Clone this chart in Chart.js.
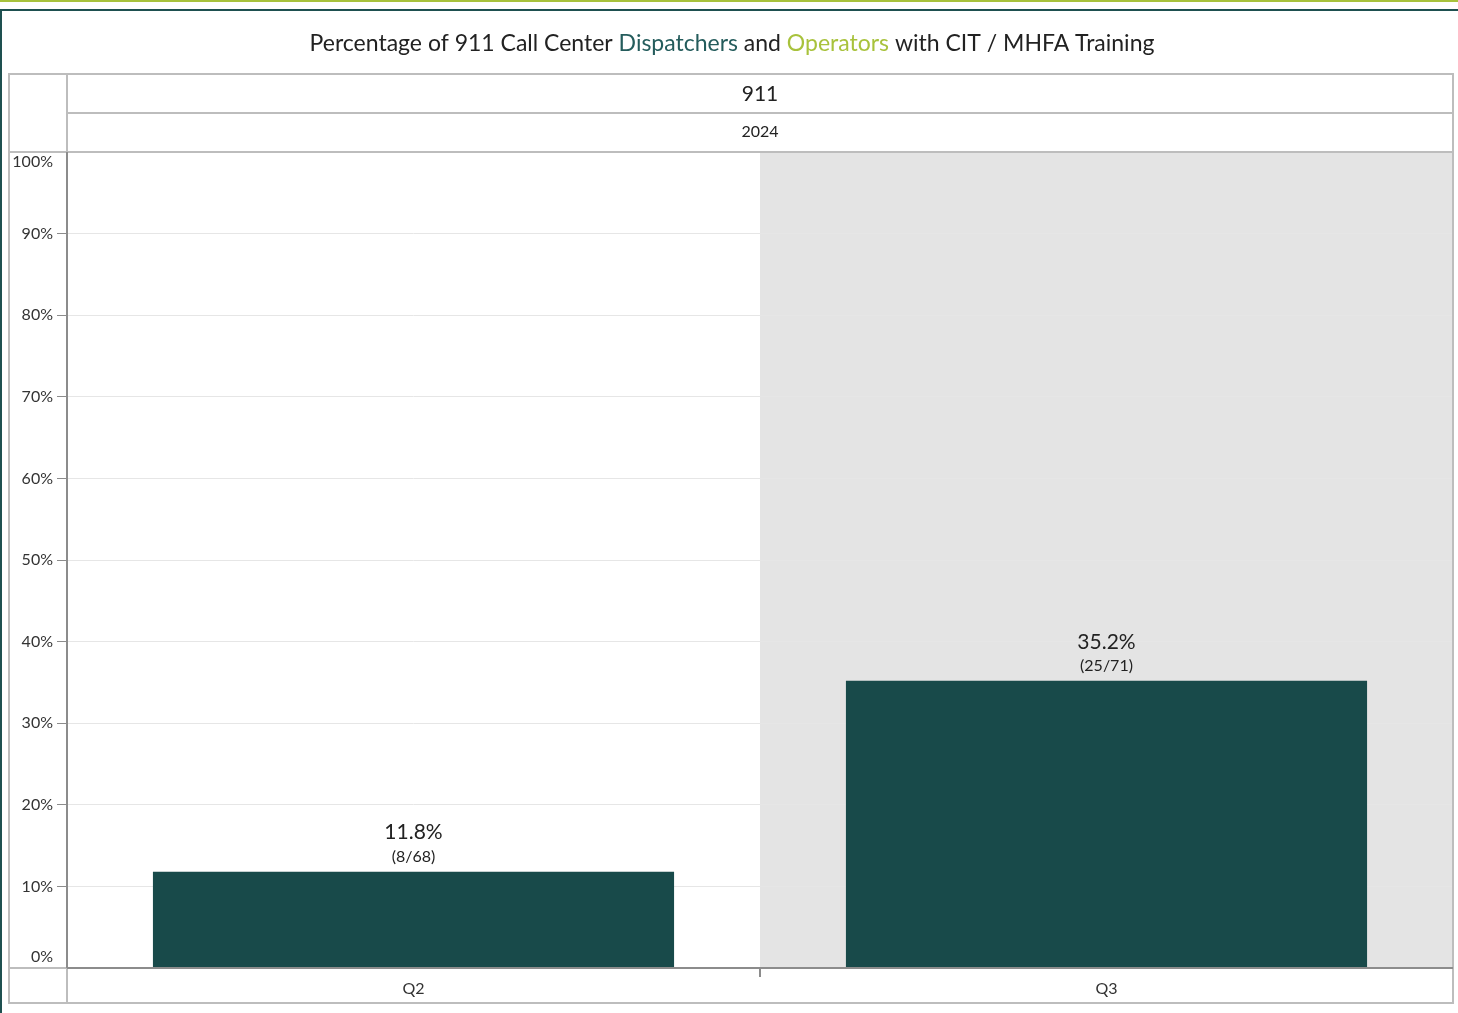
<!DOCTYPE html>
<html>
<head>
<meta charset="utf-8">
<script src="https://cdn.jsdelivr.net/npm/chart.js@4"></script>
<style>
  html, body { margin: 0; padding: 0; background: #fff; }
  #wrap { width: 1458px; height: 1013px; position: relative; }
</style>
</head>
<body>
<div id="wrap"><canvas id="chart"></canvas></div>
<script>
'use strict';

var quarters = ['Q2', 'Q3'];
var pctValues = [11.8, 35.2];
var trainedCounts = [8, 25];
var staffTotals = [68, 71];
var yTicks = [0, 10, 20, 30, 40, 50, 60, 70, 80, 90, 100];
var groupLabel = '911';
var yearLabel = '2024';

var FONT = 'Lato, "DejaVu Sans", sans-serif';
var BAR_COLOR = '#184a4a';
var FRAME = '#bdbdbd';
var AXIS = '#8c8c8c';

var decor = {
    id: 'decor',
    beforeDraw: function(chart) {
        var ctx = chart.ctx;
        var area = chart.chartArea;
        var x = chart.scales.x;
        ctx.save();
        ctx.fillStyle = '#fff';
        ctx.fillRect(0, 0, chart.width, chart.height);
        // shaded band behind the second quarter
        var mid = (x.getPixelForValue(0) + x.getPixelForValue(1)) / 2;
        ctx.fillStyle = '#e4e4e4';
        ctx.fillRect(mid, area.top, area.right - mid, area.bottom - area.top);
        ctx.restore();
    },
    afterDraw: function(chart) {
        var ctx = chart.ctx;
        var area = chart.chartArea;
        var x = chart.scales.x;
        var y = chart.scales.y;
        var W = chart.width;
        ctx.save();

        // top accents
        ctx.fillStyle = '#a8c23c';
        ctx.fillRect(0, 0, W, 2);
        ctx.fillStyle = '#1e5050';
        ctx.fillRect(0, 9, W, 2);
        ctx.fillRect(0, 9, 2, chart.height - 9);

        // title with coloured words
        var parts = [
            ['Percentage of 911 Call Center ', '#222'],
            ['Dispatchers', '#245c5c'],
            [' and ', '#222'],
            ['Operators', '#a8c23c'],
            [' with CIT / MHFA Training', '#222']
        ];
        ctx.font = '23px ' + FONT;
        ctx.textBaseline = 'middle';
        ctx.textAlign = 'left';
        var total = 0;
        parts.forEach(function(p) { total += ctx.measureText(p[0]).width; });
        var tx = 732 - total / 2;
        parts.forEach(function(p) {
            ctx.fillStyle = p[1];
            ctx.fillText(p[0], tx, 44);
            tx += ctx.measureText(p[0]).width;
        });

        // frame and header rows
        var left = 9, top = 74, bottom = 1003;
        ctx.strokeStyle = FRAME;
        ctx.lineWidth = 2;
        ctx.strokeRect(left, top, area.right - left, bottom - top);
        ctx.beginPath();
        ctx.moveTo(area.left, 113); ctx.lineTo(area.right, 113);
        ctx.moveTo(left, area.top); ctx.lineTo(area.right, area.top);
        ctx.moveTo(area.left, top); ctx.lineTo(area.left, bottom);
        ctx.moveTo(left, area.bottom); ctx.lineTo(area.left, area.bottom);
        ctx.stroke();

        // axis lines
        ctx.strokeStyle = AXIS;
        ctx.beginPath();
        ctx.moveTo(area.left, area.bottom); ctx.lineTo(area.right, area.bottom);
        ctx.moveTo(area.left, area.top); ctx.lineTo(area.left, area.bottom);
        var mid = (x.getPixelForValue(0) + x.getPixelForValue(1)) / 2;
        ctx.moveTo(mid, area.bottom); ctx.lineTo(mid, area.bottom + 9);
        ctx.stroke();

        // header text
        var cx = (area.left + area.right) / 2;
        ctx.textAlign = 'center';
        ctx.fillStyle = '#222';
        ctx.font = '21px ' + FONT;
        ctx.fillText(groupLabel, cx, 94);
        ctx.font = '16px ' + FONT;
        ctx.fillText(yearLabel, cx, 132);

        // y tick labels, edge labels kept inside the pane
        ctx.textAlign = 'right';
        ctx.font = '16px ' + FONT;
        ctx.fillStyle = '#333';
        yTicks.forEach(function(v) {
            var py = y.getPixelForValue(v);
            if (v === 100) py += 10;
            if (v === 0) py -= 11;
            ctx.fillText(v + '%', 53, py);
        });

        // labels above bars
        var meta = chart.getDatasetMeta(0);
        ctx.textAlign = 'center';
        meta.data.forEach(function(bar, i) {
            ctx.fillStyle = '#222';
            ctx.font = '21px ' + FONT;
            ctx.fillText(pctValues[i].toFixed(1) + '%', bar.x, bar.y - 39);
            ctx.font = '16px ' + FONT;
            ctx.fillText('(' + trainedCounts[i] + '/' + staffTotals[i] + ')', bar.x, bar.y - 15);
        });
        ctx.restore();
    }
};

new Chart(document.getElementById('chart'), {
    type: 'bar',
    data: {
        labels: quarters,
        datasets: [{
            data: pctValues,
            backgroundColor: BAR_COLOR,
            borderWidth: 0,
            categoryPercentage: 1,
            barPercentage: 0.752
        }]
    },
    options: {
        responsive: true,
        maintainAspectRatio: false,
        animation: false,
        layout: { padding: { left: 57, right: 5, top: 152, bottom: 10 } },
        plugins: {
            legend: { display: false },
            tooltip: { enabled: false }
        },
        scales: {
            x: {
                grid: { display: false },
                border: { display: false },
                ticks: {
                    color: '#333',
                    font: { family: FONT, size: 16 },
                    padding: 3
                },
                afterFit: function(s) { s.height = 35; }
            },
            y: {
                min: 0,
                max: 100,
                afterBuildTicks: function(s) {
                    s.ticks = yTicks.map(function(v) { return { value: v }; });
                },
                grid: {
                    color: '#e6e6e6',
                    tickColor: AXIS,
                    tickLength: 10,
                    drawTicks: true
                },
                border: { display: false },
                ticks: { display: false },
                afterFit: function(s) { s.width = 10; }
            }
        }
    },
    plugins: [decor]
});
</script>
</body>
</html>
